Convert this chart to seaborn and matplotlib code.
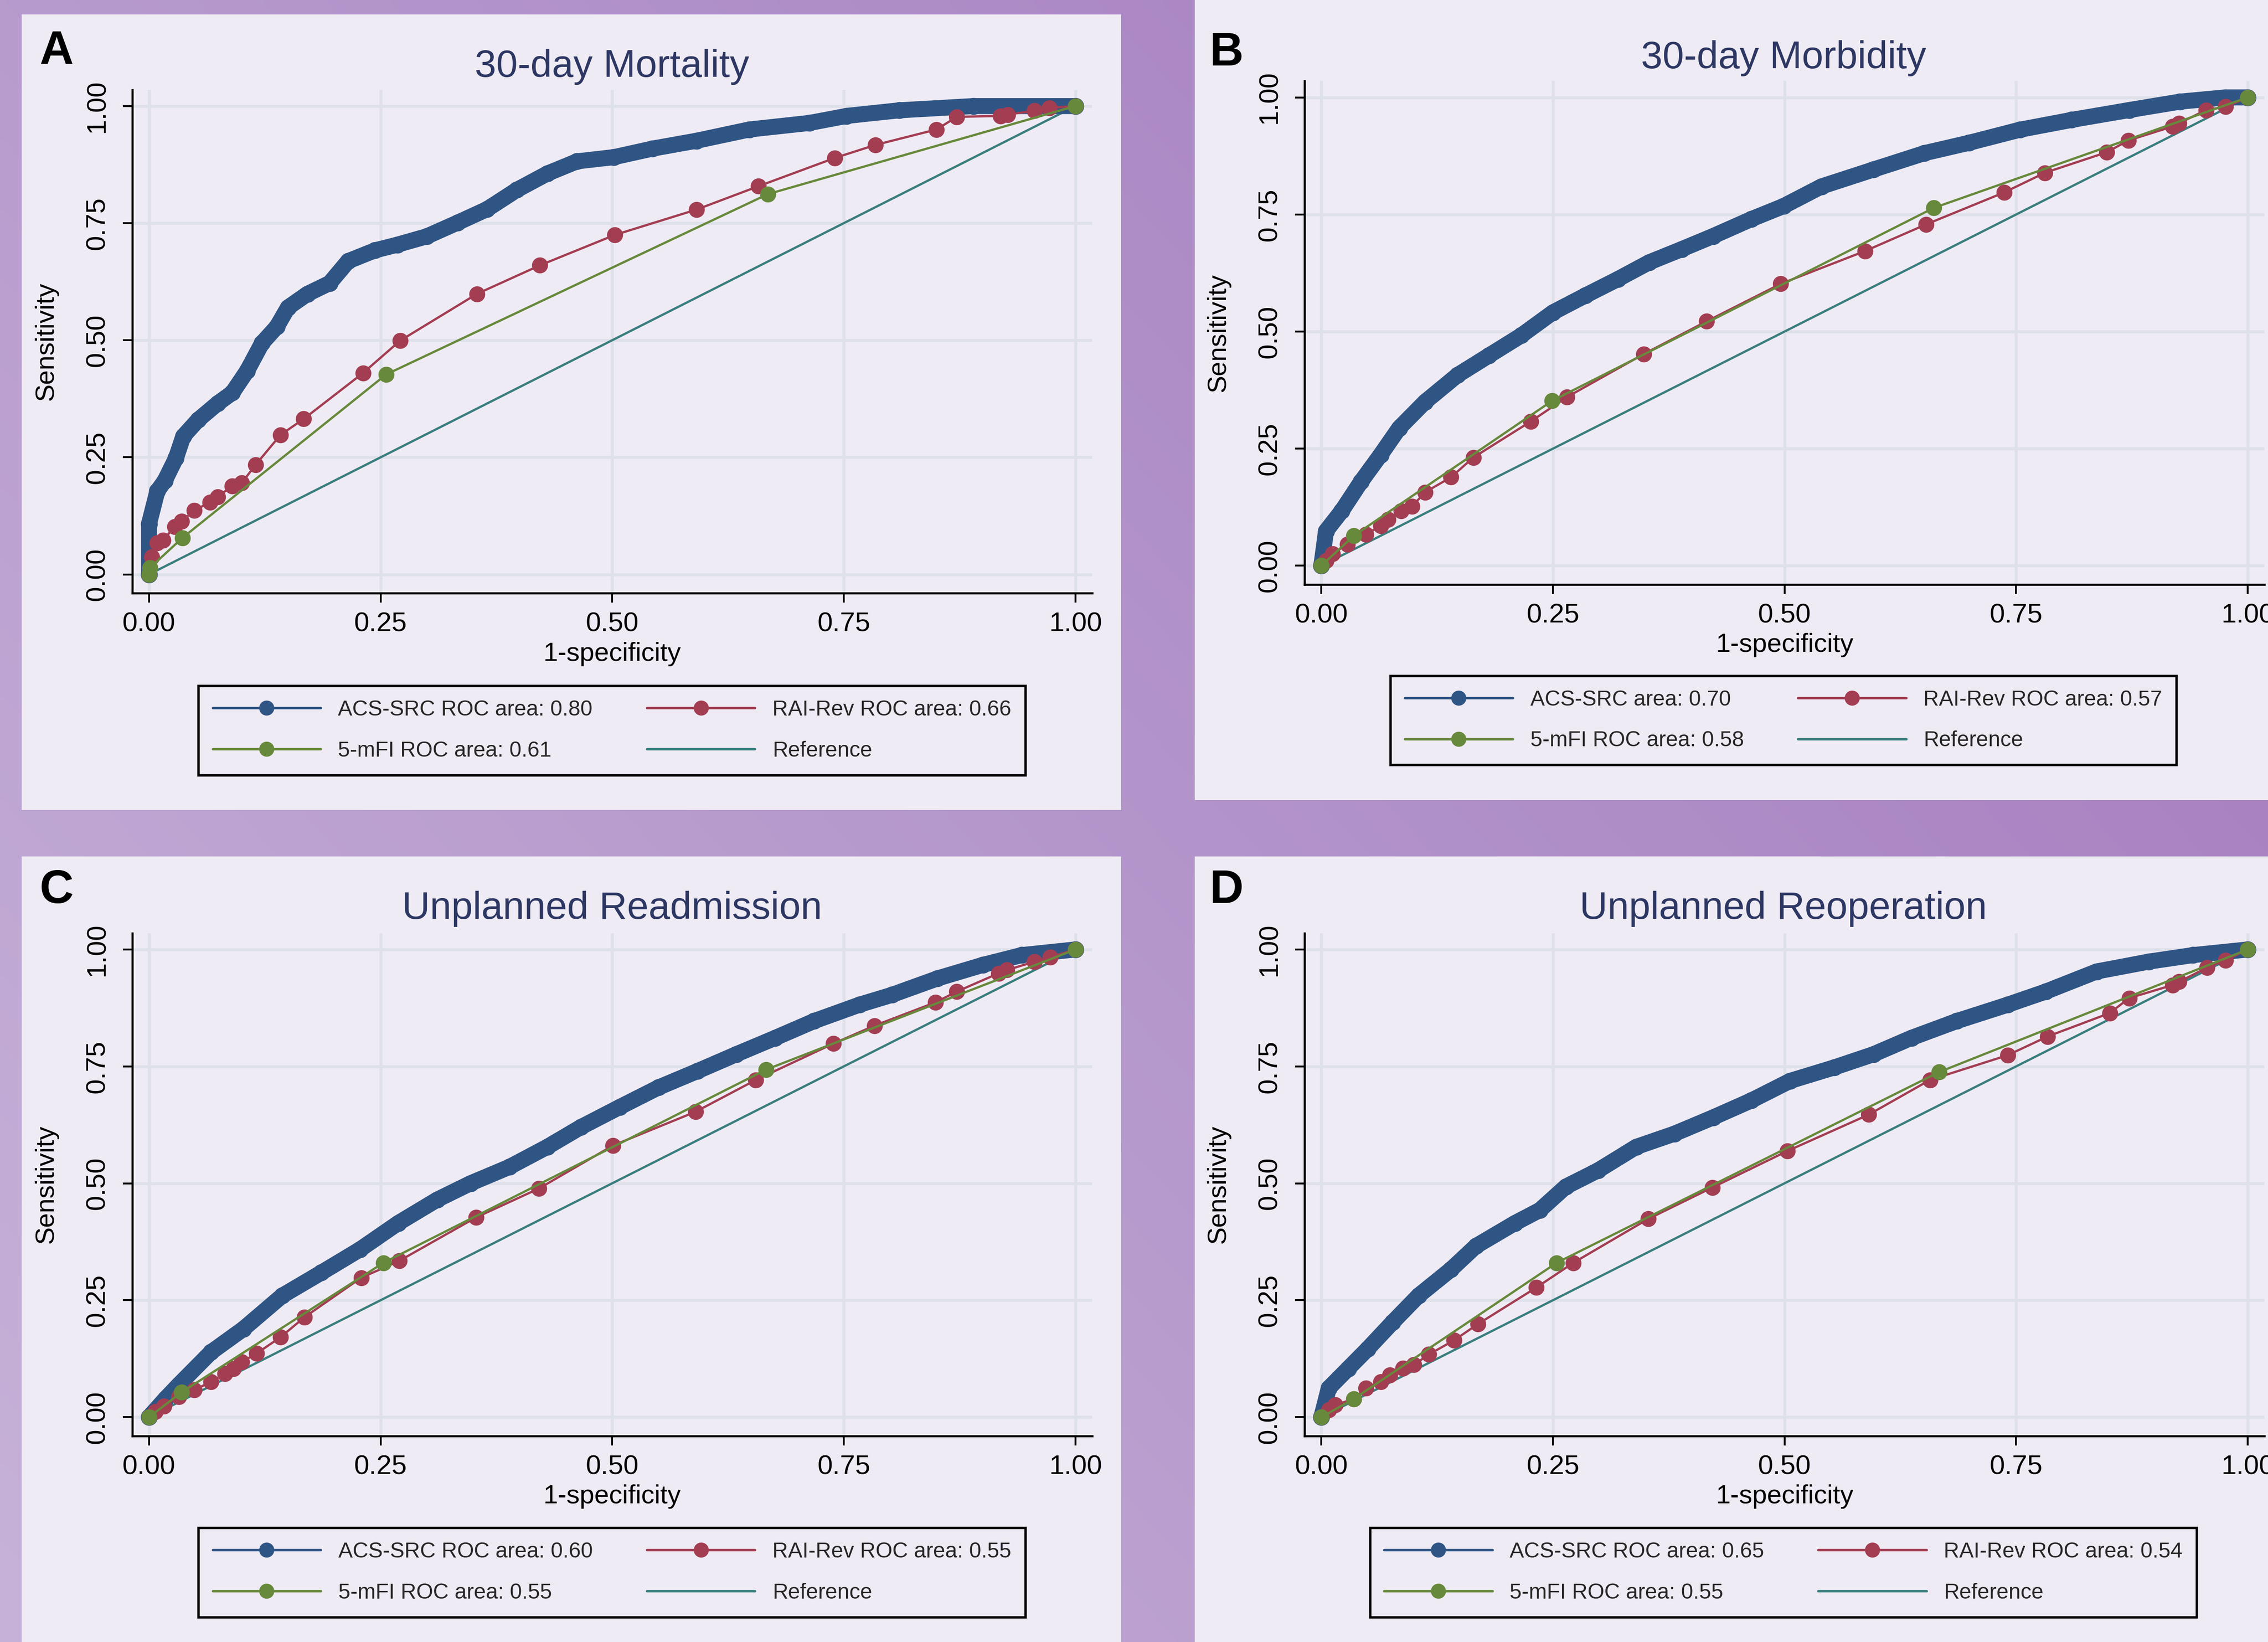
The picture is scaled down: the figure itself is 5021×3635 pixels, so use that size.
import numpy as np
import matplotlib
matplotlib.use("Agg")
import matplotlib.pyplot as plt
import seaborn as sns
from matplotlib.lines import Line2D
from matplotlib.patches import Rectangle

sns.set_theme(style="white")
plt.rcParams["font.family"] = ["Liberation Sans", "DejaVu Sans"]

# ---------------- data ----------------
titles = ["30-day Mortality", "30-day Morbidity", "Unplanned Readmission", "Unplanned Reoperation"]
letters = ["A", "B", "C", "D"]
acs_labels = ["ACS-SRC ROC area: 0.80", "ACS-SRC area: 0.70", "ACS-SRC ROC area: 0.60", "ACS-SRC ROC area: 0.65"]
rai_labels = ["RAI-Rev ROC area: 0.66", "RAI-Rev ROC area: 0.57", "RAI-Rev ROC area: 0.55", "RAI-Rev ROC area: 0.54"]
mfi_labels = ["5-mFI ROC area: 0.61", "5-mFI ROC area: 0.58", "5-mFI ROC area: 0.55", "5-mFI ROC area: 0.55"]

# A: 30-day mortality
acs_a_x = [0, 0.0, 0.009, 0.017, 0.029, 0.037, 0.053, 0.074, 0.09, 0.106, 0.122, 0.138, 0.15, 0.171, 0.195, 0.215,
           0.244, 0.268, 0.30, 0.333, 0.365, 0.397, 0.43, 0.462, 0.502, 0.543, 0.591, 0.648, 0.713, 0.753, 0.81, 0.89, 1.0]
acs_a_y = [0, 0.108, 0.178, 0.20, 0.248, 0.295, 0.33, 0.365, 0.388, 0.435, 0.494, 0.529, 0.57, 0.599, 0.622, 0.669,
           0.692, 0.704, 0.722, 0.751, 0.78, 0.821, 0.856, 0.882, 0.891, 0.909, 0.926, 0.95, 0.964, 0.979, 0.991, 1.0, 1.0]
rai_a_x = [0, 0.003, 0.009, 0.015, 0.028, 0.035, 0.049, 0.066, 0.074, 0.09, 0.1, 0.115, 0.142, 0.167, 0.231,
           0.271, 0.354, 0.422, 0.503, 0.591, 0.658, 0.74, 0.784, 0.85, 0.872, 0.919, 0.927, 0.956, 0.972, 1.0]
rai_a_y = [0, 0.037, 0.067, 0.073, 0.102, 0.113, 0.137, 0.154, 0.166, 0.189, 0.195, 0.234, 0.298, 0.332, 0.43,
           0.499, 0.599, 0.66, 0.725, 0.779, 0.829, 0.889, 0.917, 0.95, 0.977, 0.979, 0.982, 0.99, 0.996, 1.0]
mfi_a_x = [0, 0.001, 0.036, 0.256, 0.668, 1.0]
mfi_a_y = [0, 0.014, 0.078, 0.427, 0.812, 1.0]

# B: 30-day morbidity
acs_b_x = [0, 0.005, 0.022, 0.043, 0.064, 0.084, 0.112, 0.147, 0.181, 0.216, 0.25, 0.285, 0.32, 0.354, 0.389,
           0.423, 0.464, 0.499, 0.54, 0.596, 0.651, 0.699, 0.754, 0.81, 0.872, 0.927, 0.976, 1.0]
acs_b_y = [0, 0.074, 0.117, 0.18, 0.237, 0.294, 0.35, 0.407, 0.449, 0.492, 0.541, 0.577, 0.612, 0.648, 0.676,
           0.704, 0.74, 0.768, 0.81, 0.846, 0.881, 0.903, 0.931, 0.952, 0.973, 0.991, 1.0, 1.0]
rai_b_x = [0, 0.005, 0.012, 0.028, 0.048, 0.064, 0.072, 0.086, 0.098, 0.112, 0.14, 0.164, 0.226, 0.265, 0.348,
           0.416, 0.496, 0.587, 0.653, 0.737, 0.781, 0.848, 0.871, 0.919, 0.926, 0.955, 0.976, 1.0]
rai_b_y = [0, 0.011, 0.025, 0.046, 0.067, 0.085, 0.099, 0.117, 0.127, 0.157, 0.189, 0.231, 0.308, 0.36, 0.452,
           0.522, 0.602, 0.672, 0.729, 0.797, 0.839, 0.883, 0.908, 0.938, 0.945, 0.973, 0.98, 1.0]
mfi_b_x = [0, 0.035, 0.249, 0.661, 1.0]
mfi_b_y = [0, 0.064, 0.352, 0.764, 1.0]

# C: unplanned readmission
acs_c_x = [0, 0.018, 0.032, 0.067, 0.102, 0.144, 0.186, 0.228, 0.269, 0.311, 0.347, 0.389, 0.43, 0.466, 0.508,
           0.55, 0.592, 0.634, 0.676, 0.718, 0.767, 0.802, 0.851, 0.9, 0.942, 1.0]
acs_c_y = [0, 0.04, 0.069, 0.139, 0.189, 0.26, 0.309, 0.359, 0.415, 0.465, 0.5, 0.535, 0.578, 0.62, 0.663,
           0.705, 0.74, 0.776, 0.811, 0.847, 0.882, 0.903, 0.938, 0.967, 0.988, 1.0]
rai_c_x = [0, 0.007, 0.016, 0.032, 0.049, 0.067, 0.082, 0.091, 0.1, 0.116, 0.142, 0.168, 0.229, 0.27, 0.353,
           0.421, 0.501, 0.59, 0.655, 0.739, 0.783, 0.849, 0.872, 0.917, 0.926, 0.956, 0.973, 1.0]
rai_c_y = [0, 0.012, 0.023, 0.044, 0.058, 0.076, 0.093, 0.104, 0.118, 0.136, 0.171, 0.214, 0.298, 0.334, 0.427,
           0.489, 0.581, 0.653, 0.721, 0.799, 0.837, 0.887, 0.91, 0.949, 0.956, 0.974, 0.984, 1.0]
mfi_c_x = [0, 0.035, 0.253, 0.666, 1.0]
mfi_c_y = [0, 0.053, 0.33, 0.743, 1.0]

# D: unplanned reoperation
acs_d_x = [0, 0.008, 0.029, 0.05, 0.077, 0.105, 0.14, 0.167, 0.209, 0.236, 0.264, 0.299, 0.34, 0.381, 0.423,
           0.464, 0.506, 0.554, 0.596, 0.637, 0.686, 0.741, 0.782, 0.837, 0.893, 0.941, 1.0]
acs_d_y = [0, 0.062, 0.104, 0.146, 0.203, 0.26, 0.316, 0.366, 0.415, 0.443, 0.493, 0.528, 0.578, 0.606, 0.641,
           0.677, 0.719, 0.748, 0.776, 0.811, 0.847, 0.882, 0.91, 0.953, 0.974, 0.988, 1.0]
rai_d_x = [0, 0.008, 0.015, 0.035, 0.048, 0.064, 0.074, 0.088, 0.1, 0.116, 0.143, 0.169, 0.232, 0.272, 0.353,
           0.422, 0.503, 0.591, 0.657, 0.741, 0.784, 0.851, 0.872, 0.919, 0.926, 0.956, 0.976, 1.0]
rai_d_y = [0, 0.016, 0.026, 0.039, 0.062, 0.076, 0.09, 0.105, 0.112, 0.134, 0.164, 0.199, 0.277, 0.33, 0.424,
           0.491, 0.569, 0.647, 0.721, 0.774, 0.814, 0.864, 0.896, 0.924, 0.931, 0.961, 0.977, 1.0]
mfi_d_x = [0, 0.035, 0.254, 0.667, 1.0]
mfi_d_y = [0, 0.039, 0.33, 0.738, 1.0]

ref_x = [0, 1]
ref_y = [0, 1]
ticks = [0, 0.25, 0.5, 0.75, 1.0]

panels = [
    (acs_a_x, acs_a_y, rai_a_x, rai_a_y, mfi_a_x, mfi_a_y),
    (acs_b_x, acs_b_y, rai_b_x, rai_b_y, mfi_b_x, mfi_b_y),
    (acs_c_x, acs_c_y, rai_c_x, rai_c_y, mfi_c_x, mfi_c_y),
    (acs_d_x, acs_d_y, rai_d_x, rai_d_y, mfi_d_x, mfi_d_y),
]

# ---------------- styling ----------------
c_acs = "#2f5585"
c_rai = "#a33d52"
c_mfi = "#67893b"
c_ref = "#3a7e7e"
panel_col = "#efebf4"
grid_col = "#dfe1ea"
title_col = "#2d3763"

W, H = 1568.0, 1135.0  # layout measured on the shrunk reference
def fx(px):
    return px / W
def fy(py):
    return 1 - py / H

# panel boxes (left, top, right, bottom) in shrunk px
panel_boxes = [(15, 10, 775, 560), (826, 0, 1568, 553), (15, 592, 775, 1135), (826, 592, 1568, 1135)]
axes_boxes = [(91.5, 62, 755, 410), (902, 56, 1565.5, 404), (91.5, 645, 755, 992.5), (902, 645, 1565.5, 992.5)]
title_pos = [(423, 53), (1233, 47), (423, 635), (1233, 635)]
letter_pos = [(39, 36), (848, 37), (39, 616), (848, 616)]
legend_pos = [(423, 474), (1233, 467), (423, 1056), (1233, 1056)]

fig = plt.figure(figsize=(5021 / 300, 3635 / 300), dpi=300)

# purple gradient background
gx, gy = np.meshgrid(np.linspace(0, 1, 300), np.linspace(1, 0, 220))
t = 0.6 * gx + 0.4 * gy
light = np.array([0.78, 0.70, 0.85])
dark = np.array([0.63, 0.47, 0.74])
grad = light[None, None, :] * (1 - t[..., None]) + dark[None, None, :] * t[..., None]
bg = fig.add_axes([0, 0, 1, 1], zorder=-10)
bg.imshow(grad, aspect="auto", extent=[0, 1, 0, 1], interpolation="bilinear")
bg.axis("off")

for i in range(4):
    l, tp, r, b = panel_boxes[i]
    fig.add_artist(Rectangle((fx(l), fy(b)), fx(r) - fx(l), fy(tp) - fy(b), transform=fig.transFigure,
                             facecolor=panel_col, edgecolor="none", zorder=-5))

    al, at, ar, ab = axes_boxes[i]
    ax = fig.add_axes([fx(al), fy(ab), fx(ar) - fx(al), fy(at) - fy(ab)])
    ax.set_facecolor(panel_col)

    acs_x, acs_y, rai_x, rai_y, mfi_x, mfi_y = panels[i]

    sns.lineplot(x=ref_x, y=ref_y, ax=ax, color=c_ref, lw=1.2, sort=False, estimator=None, legend=False, zorder=2)
    sns.lineplot(x=acs_x, y=acs_y, ax=ax, color=c_acs, lw=8.5, marker="o", markersize=9, markeredgewidth=0,
                 sort=False, estimator=None, legend=False, zorder=3,
                 solid_joinstyle="round", solid_capstyle="round")
    sns.lineplot(x=rai_x, y=rai_y, ax=ax, color=c_rai, lw=1.2, marker="o", markersize=8.5, markeredgewidth=0,
                 sort=False, estimator=None, legend=False, zorder=4)
    sns.lineplot(x=mfi_x, y=mfi_y, ax=ax, color=c_mfi, lw=1.2, marker="o", markersize=8.5, markeredgewidth=0,
                 sort=False, estimator=None, legend=False, zorder=5)

    ax.set_xlim(-0.018, 1.018)
    ax.set_ylim(-0.04, 1.035)
    ax.set_xticks(ticks)
    ax.set_yticks(ticks)
    ax.set_xticklabels([f"{v:.2f}" for v in ticks])
    ax.set_yticklabels([f"{v:.2f}" for v in ticks], rotation=90, va="center")
    ax.tick_params(axis="both", direction="out", length=5, width=1, color="black", labelsize=14.5,
                   labelcolor="black", left=True, bottom=True)
    ax.tick_params(axis="x", pad=5)
    ax.tick_params(axis="y", pad=7)
    ax.grid(True, color=grid_col, lw=1.6)
    ax.set_axisbelow(True)
    for s in ["top", "right"]:
        ax.spines[s].set_visible(False)
    for s in ["left", "bottom"]:
        ax.spines[s].set_color("black")
        ax.spines[s].set_linewidth(1.1)

    ax.set_xlabel("1-specificity", fontsize=14, color="black")
    ax.set_ylabel("Sensitivity", fontsize=14, color="black")
    ax.xaxis.set_label_coords(0.5, -(452 - 410) / 348)
    ax.yaxis.set_label_coords(-(91.5 - 32) / 663.5, 0.5)
    ax.xaxis.label.set_va("center")
    ax.yaxis.label.set_va("center")

    fig.text(fx(title_pos[i][0]), fy(title_pos[i][1]), titles[i], ha="center", va="baseline",
             fontsize=20.5, color=title_col)
    fig.text(fx(letter_pos[i][0]), fy(letter_pos[i][1]), letters[i], ha="center", va="center",
             fontsize=25, fontweight="bold", color="black")

    handles = [
        Line2D([], [], color=c_acs, lw=1.3, marker="o", markersize=8, markeredgewidth=0),
        Line2D([], [], color=c_mfi, lw=1.3, marker="o", markersize=8, markeredgewidth=0),
        Line2D([], [], color=c_rai, lw=1.3, marker="o", markersize=8, markeredgewidth=0),
        Line2D([], [], color=c_ref, lw=1.3),
    ]
    labels = [acs_labels[i], mfi_labels[i], rai_labels[i], "Reference"]
    leg = ax.legend(handles, labels, ncol=2, loc="upper center",
                    bbox_to_anchor=(fx(legend_pos[i][0]), fy(legend_pos[i][1])),
                    bbox_transform=fig.transFigure, frameon=True, fancybox=False,
                    edgecolor="black", facecolor=panel_col, framealpha=1, fontsize=11.5,
                    handlelength=5, handletextpad=0.8, columnspacing=2.5, borderpad=0.65,
                    labelspacing=0.95, numpoints=1, borderaxespad=0)
    leg.get_frame().set_linewidth(1.3)

fig.savefig("out.png", dpi=300)
